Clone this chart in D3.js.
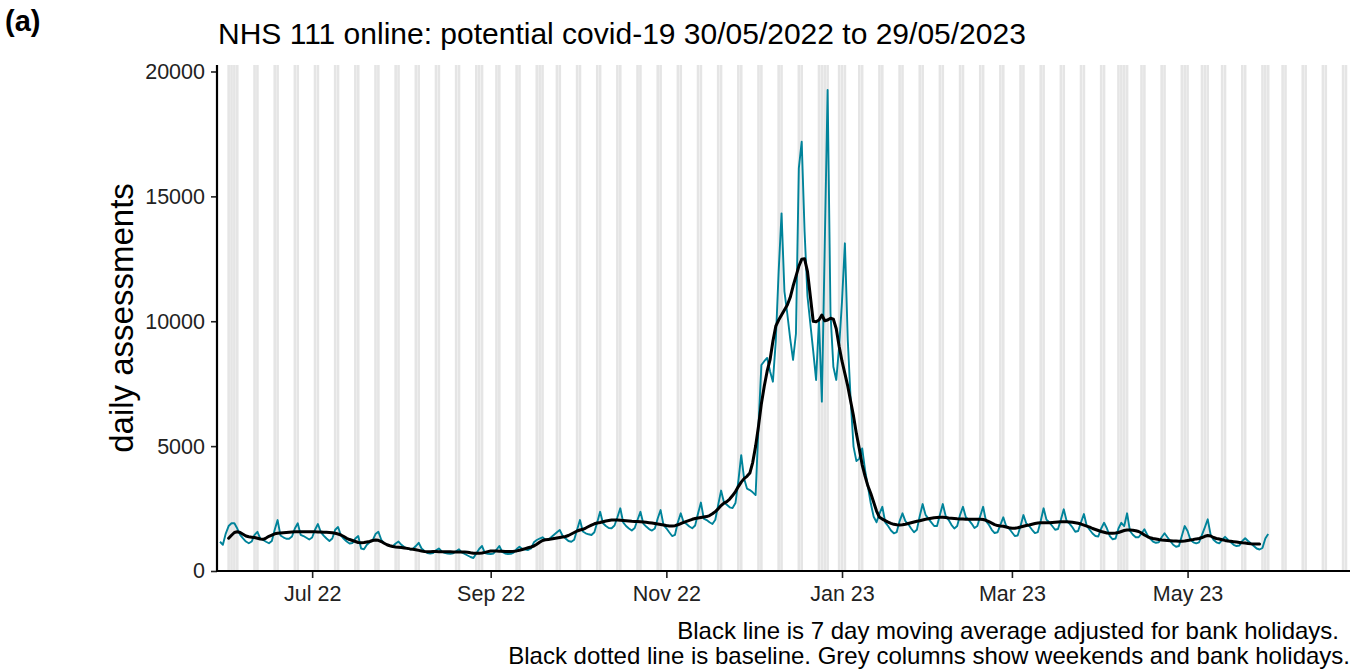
<!DOCTYPE html>
<html><head><meta charset="utf-8">
<script src="https://cdn.jsdelivr.net/npm/d3@7"></script>
<style>
body{margin:0;background:#fff}
svg{display:block}
text{font-family:"Liberation Sans",Arial,Helvetica,sans-serif}
</style>
</head><body>
<svg id="chart" width="1362" height="672"></svg>
<script>
// ---------- data ----------
const startDate = "2022-05-30";           // first day of the series
const columnsEndDate = "2023-06-25";      // grey columns are drawn up to this day
const bankHolidays = ["2022-06-02","2022-06-03","2022-08-29","2022-09-19","2022-12-26","2022-12-27",
  "2023-01-02","2023-04-07","2023-04-10","2023-05-01","2023-05-08","2023-05-29"];

// daily assessments, 30/05/2022 .. 29/05/2023 (one row per week Mon..Sun)
const dailyAssessments = [
  1170,1050,1500,1800,1910,1910,1700,
  1450,1310,1180,1110,1180,1450,1570,
  1300,1240,1170,1110,1200,1650,2040,
  1420,1350,1290,1290,1380,1700,1910,
  1450,1400,1330,1260,1340,1650,1880,
  1560,1420,1300,1200,1300,1650,1760,
  1420,1290,1180,1100,1120,1300,1400,
  900,870,1050,1150,1230,1480,1570,
  1250,1120,1050,1000,990,1100,1180,
  1050,960,900,870,880,1000,1130,
  900,800,720,700,720,830,900,
  780,730,700,690,710,790,870,
  740,680,620,560,520,700,880,
  1000,720,690,680,700,850,1000,
  760,700,680,690,740,880,970,
  880,860,840,900,1150,1240,1300,
  1350,1250,1240,1350,1450,1550,1640,
  1400,1300,1200,1170,1250,1650,2040,
  1580,1510,1470,1440,1550,1950,2370,
  1910,1800,1720,1710,1820,2150,2510,
  1950,1800,1700,1620,1720,2050,2370,
  1900,1780,1680,1620,1700,2100,2440,
  1850,1710,1550,1400,1450,1950,2310,
  1950,1880,1780,1710,1820,2300,2740,
  2100,2040,1950,1880,2050,2650,3220,
  2750,2650,2550,2520,2720,3600,4640,
  3700,3300,3240,3150,3040,5800,8250,
  8400,8530,8000,7580,9200,12000,14320,
  11200,10300,9300,8450,9500,16120,17190,
  13600,11000,9900,8800,7650,10050,6780,
  13000,19260,10320,8180,7650,8980,10800,
  13120,9250,6850,4980,4400,4500,4910,
  4040,3380,2700,2170,1950,2300,2570,
  1950,1800,1620,1510,1560,2000,2310,
  2000,1880,1700,1550,1650,2200,2680,
  2250,2100,1950,1800,1800,2250,2680,
  2200,2050,1850,1700,1800,2250,2570,
  2150,2050,1900,1720,1800,2200,2570,
  2000,1850,1650,1520,1550,1850,2150,
  1800,1700,1550,1400,1420,1800,2240,
  1900,1800,1650,1520,1560,2000,2510,
  2050,1950,1800,1650,1680,2050,2470,
  2000,1900,1750,1570,1600,1950,2280,
  1800,1650,1500,1400,1380,1700,1930,
  1700,1400,1270,1300,1700,1930,1800,
  2310,1600,1450,1350,1350,1500,1670,
  1450,1300,1180,1130,1150,1350,1510,
  1350,1200,1050,970,1000,1400,1800,
  1600,1250,1150,1110,1150,1450,1750,
  2070,1450,1250,1150,1110,1250,1370,
  1250,1150,1050,1000,1020,1200,1310,
  1200,1100,1000,900,860,920,1300,
  1480
];

// 7 day moving average adjusted for bank holidays (as plotted), from 02/06/2022 to 26/05/2023
const maFirstDate = "2022-06-02";
const movingAverage = [
  1310,1430,1540,1570,1540,1470,1400,1370,1355,1340,1310,1280,1270,1320,1390,1440,1490,1510,1520,1530,
  1540,1550,1560,1570,1570,1575,1575,1570,1570,1570,1570,1565,1560,1555,1550,1545,1530,1510,1480,1440,
  1380,1310,1260,1220,1180,1140,1130,1140,1160,1180,1220,1240,1230,1180,1110,1050,1010,980,965,955,
  945,925,905,885,870,850,825,800,785,775,775,780,780,775,770,770,770,768,765,762,
  760,760,760,750,730,715,710,710,720,745,775,800,805,800,795,790,785,780,780,790,
  805,830,860,895,930,960,1000,1070,1150,1220,1250,1265,1280,1300,1320,1340,1360,1380,1420,1480,
  1540,1600,1640,1670,1720,1780,1840,1890,1920,1940,1970,2000,2020,2040,2045,2040,2030,2020,2010,2000,
  1990,1985,1980,1970,1960,1950,1935,1920,1900,1880,1860,1840,1820,1805,1800,1815,1850,1900,1950,1990,
  2030,2070,2100,2120,2140,2160,2180,2220,2290,2380,2490,2620,2720,2780,2880,3020,3180,3380,3560,3700,
  3790,3920,4350,5000,5800,6700,7400,8000,8450,9200,9800,10050,10250,10450,10650,10950,11400,11800,12200,12480,
  12500,12000,11000,10000,9980,10050,10250,10020,10050,10120,10080,9700,9000,8400,7900,7400,6800,6200,5500,4900,
  4250,3800,3400,3100,2750,2400,2150,2080,2020,1960,1910,1870,1850,1840,1850,1870,1900,1930,1960,1990,
  2010,2040,2070,2090,2110,2130,2140,2150,2150,2140,2120,2110,2100,2090,2085,2080,2075,2070,2070,2070,
  2070,2070,2060,2030,1980,1920,1860,1820,1800,1790,1760,1730,1710,1710,1730,1760,1790,1820,1840,1870,
  1900,1920,1930,1930,1930,1935,1945,1955,1965,1970,1970,1970,1965,1950,1930,1910,1880,1840,1800,1760,
  1700,1660,1620,1580,1550,1520,1510,1510,1520,1540,1580,1620,1640,1640,1630,1610,1580,1520,1440,1380,
  1330,1300,1280,1260,1245,1235,1225,1215,1205,1200,1195,1190,1200,1220,1240,1260,1285,1300,1340,1390,
  1420,1400,1340,1300,1280,1250,1225,1205,1190,1175,1160,1145,1130,1120,1100,1090,1085,1080,1080
];

const yTicks = [0, 5000, 10000, 15000, 20000];
const xTickDates = ["2022-07-01","2022-09-01","2022-11-01","2023-01-01","2023-03-01","2023-05-01"];
const xTickLabels = ["Jul 22","Sep 22","Nov 22","Jan 23","Mar 23","May 23"];
const xDomain = ["2022-05-28T23:00:00Z","2023-06-26T09:40:00Z"];
const yMax = 20260;

const titleText = "NHS 111 online: potential covid-19 30/05/2022 to 29/05/2023";
const panelTag = "(a)";
const yTitle = "daily assessments";
const captionLines = ["Black line is 7 day moving average adjusted for bank holidays.",
  "Black dotted line is baseline. Grey columns show weekends and bank holidays."];

// ---------- drawing ----------
const svg = d3.select("#chart");
const L = 217, R = 1350, T = 65, B = 571;
const parse = d3.utcParse("%Y-%m-%d");
const t0 = parse(startDate);
const x = d3.scaleUtc().domain(xDomain.map(s => new Date(s))).range([L, R]);
const y = d3.scaleLinear().domain([0, yMax]).range([B, T]);

// grey columns: weekends + bank holidays
const bhSet = new Set(bankHolidays);
const fmt = d3.utcFormat("%Y-%m-%d");
const colDays = d3.utcDay.range(t0, d3.utcDay.offset(parse(columnsEndDate), 1))
  .filter(d => d.getUTCDay() === 0 || d.getUTCDay() === 6 || bhSet.has(fmt(d)));
const halfW = 0.45 * 86400000;
svg.append("g").selectAll("rect").data(colDays).join("rect")
  .attr("x", d => x(new Date(+d - halfW)))
  .attr("width", d => x(new Date(+d + halfW)) - x(new Date(+d - halfW)))
  .attr("y", T).attr("height", B - T)
  .attr("fill", "#e5e5e5");

// daily line
const daily = dailyAssessments.map((v, i) => ({date: d3.utcDay.offset(t0, i), v}));
const line = d3.line().x(d => x(d.date)).y(d => y(d.v));
svg.append("path").datum(daily).attr("d", line)
  .attr("fill", "none").attr("stroke", "#00839a").attr("stroke-width", 1.9)
  .attr("stroke-linejoin", "round");

// moving average
const ma0 = parse(maFirstDate);
const ma = movingAverage.map((v, i) => ({date: d3.utcDay.offset(ma0, i), v}));
svg.append("path").datum(ma).attr("d", line)
  .attr("fill", "none").attr("stroke", "#000").attr("stroke-width", 3)
  .attr("stroke-linejoin", "round").attr("stroke-linecap", "round");

// axes
const tickFont = 21.5;
const yAxis = d3.axisLeft(y).tickValues(yTicks).tickSize(6).tickPadding(6).tickFormat(d3.format("d"));
const gy = svg.append("g").attr("transform", `translate(${L},0)`).call(yAxis);
gy.select(".domain").remove();
gy.selectAll(".tick line").attr("stroke", "#222").attr("stroke-width", 1.6);
gy.selectAll(".tick text").attr("font-size", tickFont).attr("fill", "#222")
  .attr("font-family", '"Liberation Sans",Arial,sans-serif');

const xAxis = d3.axisBottom(x).tickValues(xTickDates.map(parse)).tickSize(7).tickPadding(8)
  .tickFormat((d, i) => xTickLabels[i]);
const gx = svg.append("g").attr("transform", `translate(0,${B})`).call(xAxis);
gx.select(".domain").remove();
gx.selectAll(".tick line").attr("stroke", "#222").attr("stroke-width", 1.6);
gx.selectAll(".tick text").attr("font-size", tickFont).attr("fill", "#222")
  .attr("font-family", '"Liberation Sans",Arial,sans-serif');

svg.append("line").attr("x1", L).attr("x2", L).attr("y1", T).attr("y2", B + 1)
  .attr("stroke", "#000").attr("stroke-width", 2.2);
svg.append("line").attr("x1", L - 1).attr("x2", R).attr("y1", B).attr("y2", B)
  .attr("stroke", "#000").attr("stroke-width", 2.2);

// texts
svg.append("text").attr("x", 5).attr("y", 31).attr("font-size", 29).attr("font-weight", "bold")
  .text(panelTag);
svg.append("text").attr("x", 218).attr("y", 44).attr("font-size", 30).attr("fill", "#000")
  .text(titleText);
svg.append("text").attr("transform", `translate(133,${(T + B) / 2}) rotate(-90)`)
  .attr("text-anchor", "middle").attr("font-size", 33).text(yTitle);
svg.append("text").attr("x", 1339).attr("y", 639).attr("text-anchor", "end").attr("font-size", 24)
  .text(captionLines[0]);
svg.append("text").attr("x", 1350).attr("y", 664).attr("text-anchor", "end").attr("font-size", 24)
  .text(captionLines[1]);
</script>
</body></html>
